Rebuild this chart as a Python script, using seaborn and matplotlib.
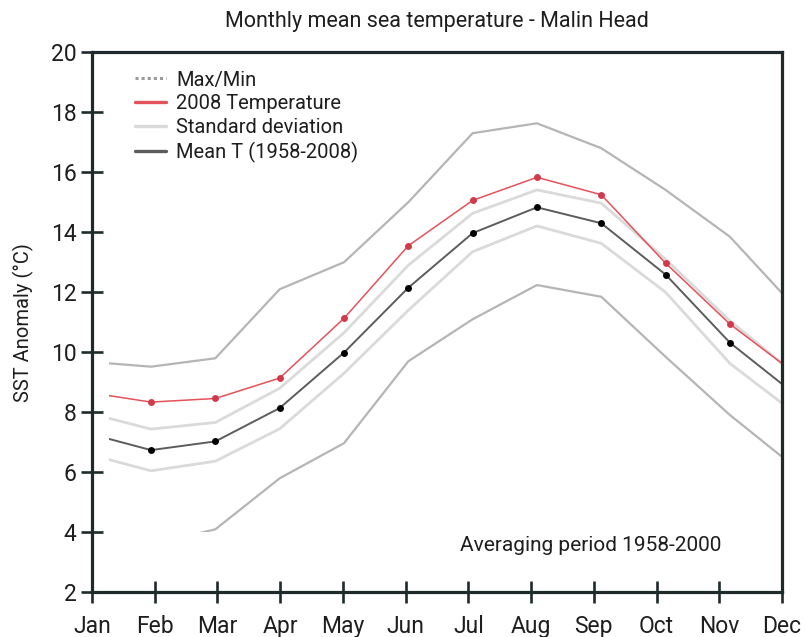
import matplotlib
matplotlib.use("Agg")
import matplotlib.pyplot as plt
import seaborn as sns
import numpy as np
from matplotlib.lines import Line2D
from matplotlib.patches import Rectangle

# ---- data ----
months = ["Jan", "Feb", "Mar", "Apr", "May", "Jun",
          "Jul", "Aug", "Sep", "Oct", "Nov", "Dec"]
temp_2008 = [8.67, 8.34, 8.46, 9.14, 11.13, 13.55, 15.06, 15.83, 15.25, 12.97, 10.94, 9.32]
mean_t    = [7.31, 6.74, 7.03, 8.14, 9.99, 12.15, 13.97, 14.83, 14.30, 12.59, 10.32, 8.62]
std_upper = [7.99, 7.44, 7.66, 8.80, 10.65, 12.90, 14.63, 15.41, 14.97, 13.10, 11.05, 9.30]
std_lower = [6.62, 6.05, 6.37, 7.45, 9.30, 11.40, 13.35, 14.21, 13.63, 12.00, 9.63, 7.99]
max_t     = [9.69, 9.52, 9.80, 12.10, 13.00, 15.00, 17.30, 17.63, 16.80, 15.41, 13.85, 11.53]
min_t     = [3.90, 3.60, 4.10, 5.80, 6.97, 9.70, 11.10, 12.24, 11.85, 9.85, 7.91, 6.19]
legend_labels = ["Max/Min", "2008 Temperature", "Standard deviation", "Mean T (1958-2008)"]
title = "Monthly mean sea temperature - Malin Head"
ylabel = "SST Anomaly (°C)"
note = "Averaging period 1958-2000"

# ---- style ----
sns.set_style("white")
plt.rcParams['font.family'] = ['Roboto', 'DejaVu Sans']
text_color = "#1e1e1e"
spine_color = "#1f2a2a"
c_maxmin = "#b5b5b5"
c_std = "#dadada"
c_red = "#e4525a"
c_mean = "#5c5c5c"

fig = plt.figure(figsize=(8.07, 6.37), dpi=100)
ax = fig.add_axes([0.114, 0.0701, 0.855, 0.848])

x = np.arange(len(months))

sns.lineplot(x=x, y=max_t, color=c_maxmin, linewidth=1.6, ax=ax)
sns.lineplot(x=x, y=min_t, color=c_maxmin, linewidth=1.6, ax=ax)
sns.lineplot(x=x, y=std_upper, color=c_std, linewidth=2.0, ax=ax)
sns.lineplot(x=x, y=std_lower, color=c_std, linewidth=2.0, ax=ax)
sns.lineplot(x=x, y=mean_t, color=c_mean, linewidth=1.4, marker='o',
             markersize=5, markerfacecolor='black', markeredgewidth=0, ax=ax)
sns.lineplot(x=x, y=temp_2008, color=c_red, linewidth=1.1, marker='o',
             markersize=5, markerfacecolor='#d23a4c', markeredgewidth=0, ax=ax)

x_lo, x_hi = 0.082, 10.81
y_lo, y_hi = 2, 20

# the plotted field of the original only covers part of the axes box
field_x0, field_y0 = 0.347, 4.0
for ln in ax.lines:
    ln.set_clip_path(Rectangle((field_x0, field_y0), x_hi - field_x0, y_hi - field_y0,
                               transform=ax.transData))

ax.set_xlim(x_lo, x_hi)
ax.set_ylim(y_lo, y_hi)
ax.set_xticks(np.linspace(x_lo, x_hi, len(months)))
ax.set_xticklabels(months)
ax.set_yticks(np.arange(2, 21, 2))

for s in ax.spines.values():
    s.set_color(spine_color)
    s.set_linewidth(2.3)
ax.tick_params(axis='both', direction='inout', length=16, width=1.9,
               color=spine_color, labelsize=16.5, labelcolor=text_color,
               bottom=True, left=True)
ax.tick_params(axis='x', pad=8.5)
ax.tick_params(axis='y', pad=3)

ax.set_ylabel(ylabel, fontsize=14.5, color=text_color, labelpad=12)
ax.set_xlabel("")

fig.text(437 / 807, 1 - 22 / 637, title, ha='center', va='center',
         fontsize=15.5, color=text_color)

ax.text(0.533, 0.0876, note, transform=ax.transAxes, ha='left', va='center',
        fontsize=15, color=text_color)

handles = [
    Line2D([], [], color="#9a9a9a", linestyle=(0, (1, 1)), linewidth=2.2),
    Line2D([], [], color=c_red, linewidth=2.4),
    Line2D([], [], color=c_std, linewidth=2.4),
    Line2D([], [], color=c_mean, linewidth=2.4),
]
ax.legend(handles, legend_labels, loc='upper left', bbox_to_anchor=(0.062, 0.966),
          frameon=False, fontsize=14.5, handlelength=1.55, handletextpad=0.5,
          labelspacing=0.24, borderpad=0, borderaxespad=0, labelcolor=text_color)

fig.savefig("out.png", dpi=100)
